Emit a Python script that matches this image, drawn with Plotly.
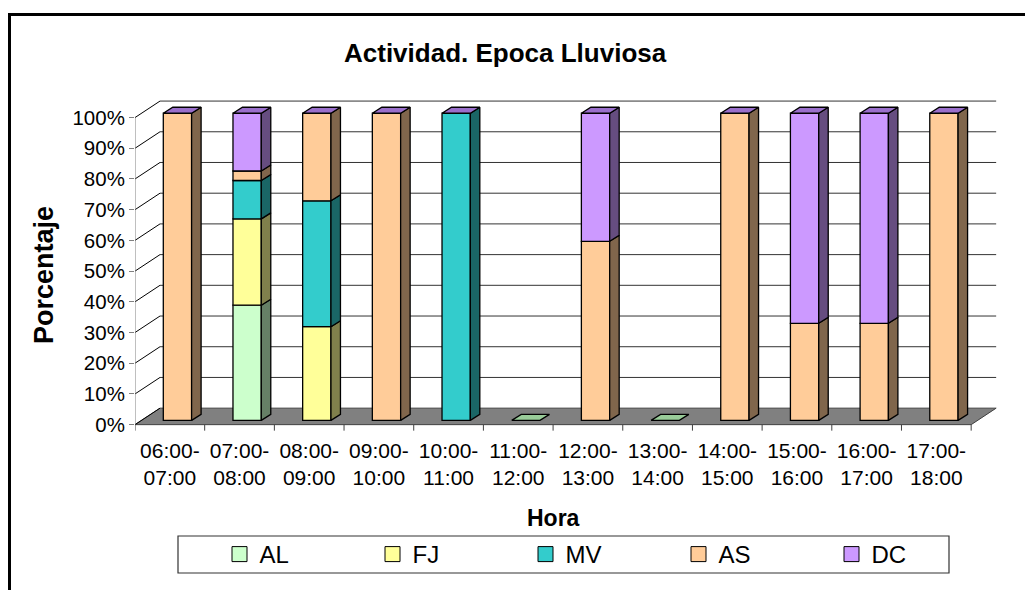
import plotly.graph_objects as go

# ---------------- data ----------------
hours = ["06:00-07:00", "07:00-08:00", "08:00-09:00", "09:00-10:00", "10:00-11:00",
         "11:00-12:00", "12:00-13:00", "13:00-14:00", "14:00-15:00", "15:00-16:00",
         "16:00-17:00", "17:00-18:00"]
AL = [0, 37.5, 0, 0, 0, 0, 0, 0, 0, 0, 0, 0]
FJ = [0, 28.1, 30.5, 0, 0, 0, 0, 0, 0, 0, 0, 0]
MV = [0, 12.5, 41.0, 0, 100, 0, 0, 0, 0, 0, 0, 0]
AS = [100, 3.1, 28.5, 100, 0, 0, 58.3, 0, 100, 31.6, 31.6, 100]
DC = [0, 18.8, 0, 0, 0, 0, 41.7, 0, 0, 68.4, 68.4, 0]
y_ticks = [0, 10, 20, 30, 40, 50, 60, 70, 80, 90, 100]
y_ticktext = [f"{v}%" for v in y_ticks]

series = [
    ("AL", AL, "#CCFFCC", "#668066"),
    ("FJ", FJ, "#FFFF99", "#80804C"),
    ("MV", MV, "#33CCCC", "#1A6666"),
    ("AS", AS, "#FFCC99", "#80664C"),
    ("DC", DC, "#CC99FF", "#664D80"),
]

# ---------------- geometry (layout) ----------------
OFF = 8                      # page body margin (screen px = figure px + OFF)
W, H = 1025, 582
ML, MR, MT, MB = 127, 27, 85, 150
XR = [-0.5, 12.0]
YR = [-5, 108]
PW = W - ML - MR
PH = H - MT - MB
ux = PW / (XR[1] - XR[0])      # px per category unit
uy = PH / (YR[1] - YR[0])      # px per percent

def px2x(px):                  # screen px -> paper x
    return (px - OFF - ML) / PW

def py2y(py):                  # screen px -> paper y
    return (H - MB - (py - OFF)) / PH

n = len(hours)
DX, DY = 25 / ux, 16.5 / uy          # full depth of the 3D floor
BAR_OFF, BAR_W = 28.3 / ux - 0.5, 28.3 / ux
SDX, SDY = 9.5 / ux, 6 / uy          # bar depth
BASE = 1.4                            # bar base (depth offset)

fig = go.Figure()

# front faces as real bars
cum = [0.0] * n
for name, vals, col, side in series:
    fig.add_trace(go.Bar(
        x=list(range(n)), y=[v if v > 0 else None for v in vals],
        base=[BASE + c for c in cum], width=BAR_W, offset=BAR_OFF,
        marker=dict(color=col, line=dict(color="black", width=1.3)),
        showlegend=False, name=name, hoverinfo="skip"))
    cum = [c + v for c, v in zip(cum, vals)]

# side faces
cum = [0.0] * n
for name, vals, col, side in series:
    xs, ys = [], []
    for i, v in enumerate(vals):
        if v <= 0:
            continue
        xr = i + BAR_OFF + BAR_W
        b = BASE + cum[i]
        xs += [xr, xr + SDX, xr + SDX, xr, xr, None]
        ys += [b, b + SDY, b + v + SDY, b + v, b, None]
    if xs:
        fig.add_trace(go.Scatter(x=xs, y=ys, mode="lines", fill="toself",
                                 fillcolor=side, line=dict(color="black", width=1.3),
                                 showlegend=False, hoverinfo="skip"))
    cum = [c + v for c, v in zip(cum, vals)]

# top faces
for color_top, cond in (("#9A6FCB", lambda t: t > 0), ("#99CC99", lambda t: t <= 0)):
    xs, ys = [], []
    for i in range(n):
        t = cum[i]
        if not cond(t):
            continue
        xl = i + BAR_OFF
        xr = xl + BAR_W
        top = BASE + t
        xs += [xl, xr, xr + SDX, xl + SDX, xl, None]
        ys += [top, top, top + SDY, top + SDY, top, None]
    if xs:
        fig.add_trace(go.Scatter(x=xs, y=ys, mode="lines", fill="toself",
                                 fillcolor=color_top, line=dict(color="black", width=1.3),
                                 showlegend=False, hoverinfo="skip"))

# legend entries
for name, vals, col, side in series:
    fig.add_trace(go.Scatter(x=[None], y=[None], mode="markers", name=name,
                             marker=dict(symbol="square", size=15, color=col,
                                         line=dict(color="black", width=1))))

shapes = []
x0, x1 = -0.5, n - 0.5
# floor
shapes.append(dict(type="path", layer="below",
                   path=f"M{x0},0 L{x1},0 L{x1 + DX},{DY} L{x0 + DX},{DY} Z",
                   fillcolor="#808080", line=dict(color="#404040", width=1)))
# back wall gridlines + left-wall diagonals
for v in y_ticks:
    if v > 0:
        shapes.append(dict(type="line", layer="below", x0=x0 + DX, x1=x1 + DX,
                           y0=v + DY, y1=v + DY, line=dict(color="#333333", width=1)))
    shapes.append(dict(type="line", layer="below", x0=x0, x1=x0 + DX,
                       y0=v, y1=v + DY, line=dict(color="#000000", width=1)))
# front vertical axis line
shapes.append(dict(type="line", layer="below", x0=x0, x1=x0, y0=0, y1=100,
                   line=dict(color="#808080", width=1)))
# category boundary ticks on the front edge
for k in range(n + 1):
    shapes.append(dict(type="line", layer="below", x0=x0 + k, x1=x0 + k,
                       y0=0, y1=-6 / uy, line=dict(color="#404040", width=1)))
# legend frame
shapes.append(dict(type="rect", xref="paper", yref="paper",
                   x0=px2x(178), x1=px2x(949), y0=py2y(536), y1=py2y(573),
                   line=dict(color="#333333", width=1.2), fillcolor="rgba(0,0,0,0)"))
# chart border
shapes.append(dict(type="rect", xref="paper", yref="paper",
                   x0=px2x(9.5), x1=px2x(1045), y0=py2y(14.5), y1=py2y(605),
                   line=dict(color="black", width=3), fillcolor="rgba(0,0,0,0)"))

FONT = "Arial, 'Liberation Sans', sans-serif"
annotations = [
    dict(text="<b>Actividad. Epoca Lluviosa</b>", xref="paper", yref="paper",
         x=px2x(505.5), y=py2y(53), xanchor="center", yanchor="middle",
         showarrow=False, font=dict(size=26, color="black", family=FONT)),
    dict(text="<b>Porcentaje</b>", xref="paper", yref="paper",
         x=px2x(44), y=py2y(275), xanchor="center", yanchor="middle", textangle=-90,
         showarrow=False, font=dict(size=27, color="black", family=FONT)),
    dict(text="<b>Hora</b>", xref="paper", yref="paper",
         x=px2x(553), y=py2y(518), xanchor="center", yanchor="middle",
         showarrow=False, font=dict(size=23, color="black", family=FONT)),
]

fig.update_layout(
    width=W, height=H,
    margin=dict(l=ML, r=MR, t=MT, b=MB, pad=0),
    paper_bgcolor="white", plot_bgcolor="white",
    barmode="overlay",
    font=dict(family=FONT, size=20, color="black"),
    xaxis=dict(range=XR, tickvals=list(range(n)),
               ticktext=[h.replace("-", "-<br>") for h in hours],
               showgrid=False, zeroline=False, showline=False, ticks="",
               ticklabelstandoff=-4,
               tickfont=dict(size=21), fixedrange=True),
    yaxis=dict(range=YR, tickvals=y_ticks, ticktext=y_ticktext,
               showgrid=False, zeroline=False, showline=False,
               ticks="outside", ticklen=5, tickcolor="#808080",
               tickfont=dict(size=20.5), fixedrange=True),
    legend=dict(orientation="h", x=px2x(219.5), xanchor="left",
                y=py2y(554.5), yanchor="middle", bgcolor="rgba(0,0,0,0)",
                borderwidth=0, font=dict(size=24), entrywidth=108,
                entrywidthmode="pixels"),
    shapes=shapes, annotations=annotations,
)

fig.write_html("out.html")
